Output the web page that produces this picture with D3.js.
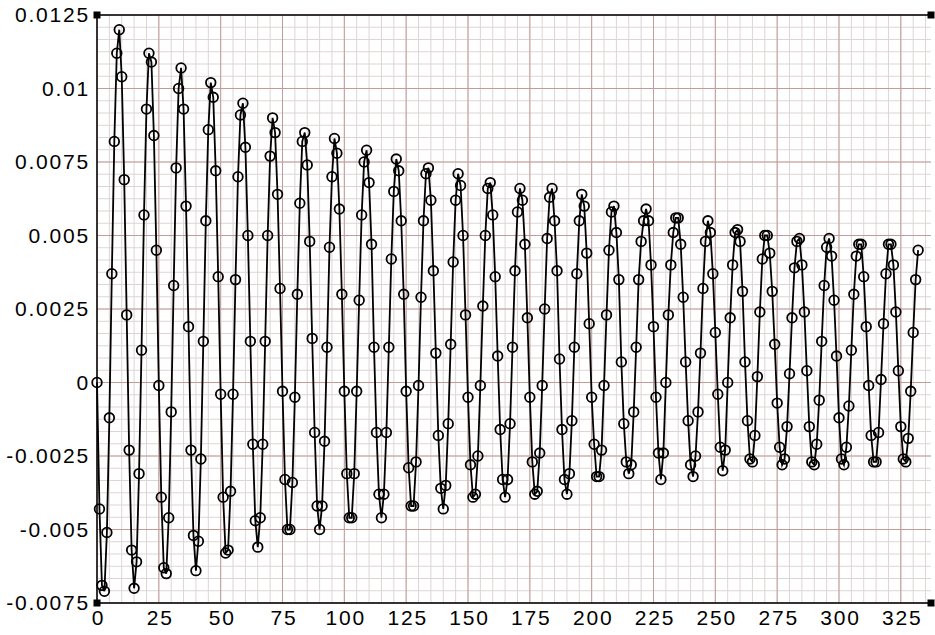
<!DOCTYPE html>
<html>
<head>
<meta charset="utf-8">
<script src="https://cdn.jsdelivr.net/npm/d3@7"></script>
<style>
  body { margin: 0; background: #fff; }
  text { font-family: "Liberation Sans", Arial, sans-serif; }
</style>
</head>
<body>
<div id="chart"></div>
<script>
// one sample per unit step on the x axis
var signal = [
  0, -0.0043, -0.0069, -0.0071, -0.0051, -0.0012, 0.0037, 0.0082, 0.0112, 0.0120,
  0.0104, 0.0069, 0.0023, -0.0023, -0.0057, -0.0070, -0.0061, -0.0031, 0.0011, 0.0057,
  0.0093, 0.0112, 0.0109, 0.0084, 0.0045, -0.0001, -0.0039, -0.0063, -0.0065, -0.0046,
  -0.0010, 0.0033, 0.0073, 0.0100, 0.0107, 0.0093, 0.0060, 0.0019, -0.0023, -0.0052,
  -0.0064, -0.0054, -0.0026, 0.0014, 0.0055, 0.0086, 0.0102, 0.0097, 0.0072, 0.0036,
  -0.0004, -0.0039, -0.0058, -0.0057, -0.0037, -0.0004, 0.0035, 0.0070, 0.0091, 0.0095,
  0.0080, 0.0050, 0.0014, -0.0021, -0.0047, -0.0056, -0.0046, -0.0021, 0.0014, 0.0050,
  0.0077, 0.0090, 0.0085, 0.0064, 0.0032, -0.0003, -0.0033, -0.0050, -0.0050, -0.0034,
  -0.0005, 0.0030, 0.0061, 0.0082, 0.0085, 0.0074, 0.0048, 0.0015, -0.0017, -0.0042,
  -0.0050, -0.0042, -0.0020, 0.0012, 0.0046, 0.0070, 0.0083, 0.0078, 0.0059, 0.0030,
  -0.0003, -0.0031, -0.0046, -0.0046, -0.0031, -0.0003, 0.0028, 0.0057, 0.0075, 0.0079,
  0.0068, 0.0047, 0.0012, -0.0017, -0.0038, -0.0046, -0.0038, -0.0017, 0.0012, 0.0042,
  0.0065, 0.0076, 0.0072, 0.0055, 0.0030, -0.0003, -0.0029, -0.0042, -0.0042, -0.0027,
  -0.0001, 0.0029, 0.0055, 0.0071, 0.0073, 0.0062, 0.0038, 0.0010, -0.0018, -0.0036,
  -0.0043, -0.0035, -0.0014, 0.0013, 0.0041, 0.0062, 0.0071, 0.0067, 0.0050, 0.0023,
  -0.0005, -0.0028, -0.0039, -0.0038, -0.0025, -0.0001, 0.0026, 0.0050, 0.0066, 0.0068,
  0.0057, 0.0036, 0.0009, -0.0016, -0.0033, -0.0039, -0.0033, -0.0014, 0.0012, 0.0038,
  0.0058, 0.0066, 0.0062, 0.0047, 0.0022, -0.0005, -0.0027, -0.0038, -0.0037, -0.0024,
  -0.0001, 0.0025, 0.0049, 0.0063, 0.0066, 0.0055, 0.0038, 0.0008, -0.0016, -0.0033,
  -0.0038, -0.0031, -0.0013, 0.0012, 0.0037, 0.0055, 0.0064, 0.0060, 0.0044, 0.0020,
  -0.0005, -0.0021, -0.0032, -0.0032, -0.0023, -0.0001, 0.0023, 0.0045, 0.0058, 0.0060,
  0.0051, 0.0035, 0.0007, -0.0014, -0.0027, -0.0031, -0.0028, -0.0010, 0.0012, 0.0035,
  0.0048, 0.0055, 0.0059, 0.0055, 0.0040, 0.0019, -0.0005, -0.0024, -0.0033, -0.0024,
  0.0000, 0.0023, 0.0040, 0.0051, 0.0056, 0.0056, 0.0047, 0.0029, 0.0007, -0.0013,
  -0.0028, -0.0032, -0.0025, -0.0010, 0.0010, 0.0032, 0.0048, 0.0055, 0.0051, 0.0037,
  0.0017, -0.0004, -0.0022, -0.0030, -0.0023, 0.0000, 0.0022, 0.0040, 0.0051, 0.0052,
  0.0048, 0.0031, 0.0007, -0.0013, -0.0026, -0.0027, -0.0018, 0.0002, 0.0024, 0.0042,
  0.0050, 0.0050, 0.0044, 0.0031, 0.0013, -0.0007, -0.0022, -0.0028, -0.0026, -0.0015,
  0.0003, 0.0022, 0.0039, 0.0048, 0.0049, 0.0040, 0.0024, 0.0004, -0.0015, -0.0027,
  -0.0028, -0.0021, -0.0006, 0.0014, 0.0033, 0.0046, 0.0049, 0.0043, 0.0028, 0.0009,
  -0.0012, -0.0026, -0.0028, -0.0022, -0.0008, 0.0011, 0.0030, 0.0043, 0.0047, 0.0047,
  0.0036, 0.0019, -0.0001, -0.0018, -0.0027, -0.0027, -0.0017, 0.0001, 0.0020, 0.0037,
  0.0047, 0.0047, 0.0040, 0.0024, 0.0004, -0.0015, -0.0026, -0.0027, -0.0019, -0.0003,
  0.0017, 0.0035, 0.0045
];

var xTicks = [0, 25, 50, 75, 100, 125, 150, 175, 200, 225, 250, 275, 300, 325];
var yTicks = [-0.0075, -0.005, -0.0025, 0, 0.0025, 0.005, 0.0075, 0.01, 0.0125];
var yTickLabels = ["-0.0075", "-0.005", "-0.0025", "0", "0.0025", "0.005", "0.0075", "0.01", "0.0125"];

var plotLeft = 97, plotRight = 931, plotTop = 15, plotBottom = 603;

var xScale = d3.scaleLinear().domain([0, 337.2]).range([plotLeft, plotRight]);
var yScale = d3.scaleLinear().domain([-0.0075, 0.0125]).range([plotBottom, plotTop]);

var svg = d3.select("#chart").append("svg")
    .attr("width", 935)
    .attr("height", 635);

// minor grid
var minorX = d3.range(0, 337.2, 5);
var minorY = d3.range(0, 48).map(i => -0.0075 + i * 0.0025 / 6);
svg.append("g").selectAll("line").data(minorX).enter().append("line")
    .attr("x1", d => xScale(d)).attr("x2", d => xScale(d))
    .attr("y1", plotTop).attr("y2", plotBottom)
    .attr("stroke", "#ddd5d5").attr("stroke-width", 1);
svg.append("g").selectAll("line").data(minorY).enter().append("line")
    .attr("x1", plotLeft).attr("x2", plotRight)
    .attr("y1", d => yScale(d)).attr("y2", d => yScale(d))
    .attr("stroke", "#ddd5d5").attr("stroke-width", 1);

// major grid
svg.append("g").selectAll("line").data(xTicks).enter().append("line")
    .attr("x1", d => xScale(d)).attr("x2", d => xScale(d))
    .attr("y1", plotTop).attr("y2", plotBottom)
    .attr("stroke", "#c49a9a").attr("stroke-width", 1);
svg.append("g").selectAll("line").data(yTicks).enter().append("line")
    .attr("x1", plotLeft).attr("x2", plotRight)
    .attr("y1", d => yScale(d)).attr("y2", d => yScale(d))
    .attr("stroke", "#c49a9a").attr("stroke-width", 1);

// frame
svg.append("line").attr("x1", plotLeft).attr("x2", plotRight).attr("y1", plotTop).attr("y2", plotTop)
    .attr("stroke", "#000").attr("stroke-width", 1.5);
svg.append("line").attr("x1", plotLeft).attr("x2", plotRight).attr("y1", plotBottom).attr("y2", plotBottom)
    .attr("stroke", "#000").attr("stroke-width", 1.5);
svg.append("line").attr("x1", plotLeft).attr("x2", plotLeft).attr("y1", plotTop).attr("y2", plotBottom)
    .attr("stroke", "#000").attr("stroke-width", 1.5);
[[plotLeft, plotTop], [plotLeft, plotBottom], [plotRight, plotTop], [plotRight, plotBottom]].forEach(c => {
    svg.append("rect").attr("x", c[0] - 3.5).attr("y", c[1] - 3.5)
        .attr("width", 7).attr("height", 7).attr("fill", "#000");
});

// axes labels
var yAxis = d3.axisLeft(yScale).tickValues(yTicks)
    .tickFormat((d, i) => yTickLabels[i]).tickSize(0).tickPadding(7);
var gy = svg.append("g").attr("transform", "translate(" + plotLeft + ",0)").call(yAxis);
gy.select(".domain").remove();
gy.selectAll("text").attr("font-size", 21).attr("fill", "#000")
    .attr("letter-spacing", 1.8)
    .style("font-family", "'Liberation Sans', Arial, sans-serif");

var xAxis = d3.axisBottom(xScale).tickValues(xTicks).tickSize(0).tickPadding(7);
var gx = svg.append("g").attr("transform", "translate(0," + plotBottom + ")").call(xAxis);
gx.select(".domain").remove();
gx.selectAll("text").attr("font-size", 21).attr("fill", "#000")
    .attr("letter-spacing", 1.8).attr("dx", 1)
    .style("font-family", "'Liberation Sans', Arial, sans-serif");

// series
var line = d3.line().x((d, i) => xScale(i)).y(d => yScale(d));
svg.append("path").datum(signal)
    .attr("d", line)
    .attr("fill", "none")
    .attr("stroke", "#000")
    .attr("stroke-width", 1.8);

svg.append("g").selectAll("circle").data(signal).enter().append("circle")
    .attr("cx", (d, i) => xScale(i))
    .attr("cy", d => yScale(d))
    .attr("r", 4.8)
    .attr("fill", "none")
    .attr("stroke", "#000")
    .attr("stroke-width", 1.8);
</script>
</body>
</html>
